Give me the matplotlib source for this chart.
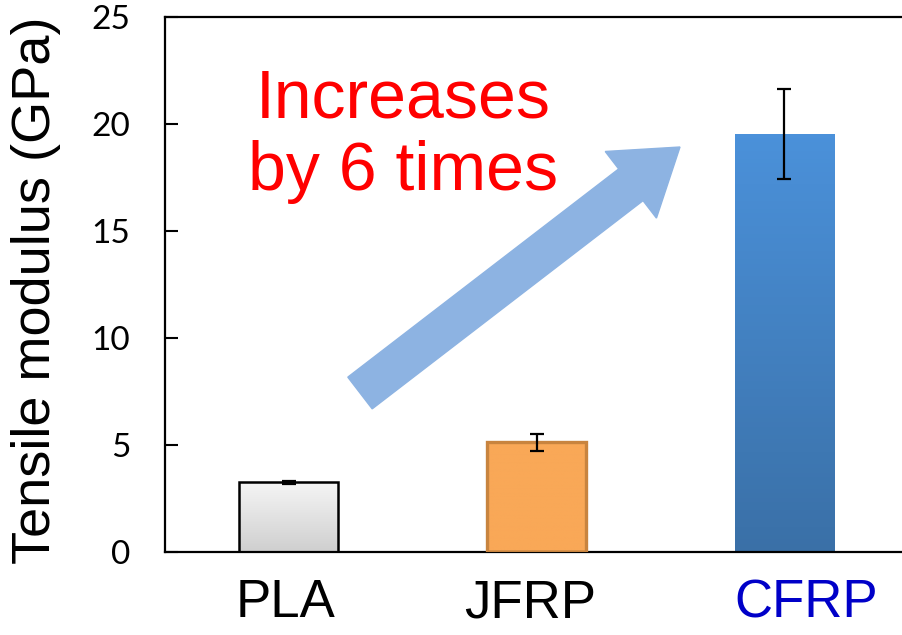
import numpy as np
import matplotlib
matplotlib.use("Agg")
import matplotlib.pyplot as plt
from matplotlib.patches import FancyArrow
from matplotlib.transforms import Affine2D, ScaledTranslation

# 数据
materials = ["PLA", "JFRP", "CFRP"]
modulus = [3.27, 5.13, 19.52]
modulus_err = [0.07, 0.40, 2.10]
label_colors = ["black", "black", "#0000C8"]
label_shift_px = [-3, -6, 22]  # 标签的水平偏移 (像素)

# 每个柱子的渐变色 (上, 下) 和边框
grad_top = ["#F5F5F5", "#F9A857", "#4B91DA"]
grad_bottom = ["#CFCFCF", "#F9A857", "#3A70A7"]
edge_colors = ["black", "#C8843F", "none"]

yticks = [0, 5, 10, 15, 20, 25]

fig = plt.figure(figsize=(9.02, 6.35), dpi=100)
ax = fig.add_axes([165 / 902, 83 / 635, (908 - 165) / 902, (552 - 17) / 635])

x = np.arange(len(materials))
width = 0.4
ax.set_xlim(-0.5, 2.5)
ax.set_ylim(0, 25)

bars = ax.bar(x, modulus, width=width, color="none", zorder=2)
for i, b in enumerate(bars):
    # 渐变填充
    grad = np.linspace(0, 1, 100).reshape(-1, 1)
    c1 = np.array(matplotlib.colors.to_rgb(grad_top[i]))
    c2 = np.array(matplotlib.colors.to_rgb(grad_bottom[i]))
    img = c1[None, None, :] * (1 - grad[:, :, None]) + c2[None, None, :] * grad[:, :, None]
    im = ax.imshow(img, extent=[b.get_x(), b.get_x() + width, 0, modulus[i]],
                   origin="upper", aspect="auto", zorder=2)
    im.set_clip_path(b)
    if edge_colors[i] != "none":
        ax.bar(x[i], modulus[i], width=width, color="none",
               edgecolor=edge_colors[i], linewidth=1.8 if i == 0 else 2.4, zorder=3)

ax.errorbar(x, modulus, yerr=modulus_err, fmt="none", ecolor="black",
            elinewidth=1.6, capsize=4.8, capthick=1.6, zorder=4)

ax.set_xlim(-0.5, 2.5)
ax.set_ylim(0, 25)

# 坐标轴样式
for s in ["top", "left", "bottom"]:
    ax.spines[s].set_linewidth(1.6)
ax.spines["right"].set_visible(False)
ax.set_yticks(yticks)
ax.set_yticklabels([str(v) for v in yticks], fontsize=24, family="Lato")
ax.tick_params(axis="y", direction="in", length=9, width=1.5, pad=25)
ax.set_xticks(x)
ax.set_xticklabels(materials, fontsize=38, family="Liberation Sans")
ax.tick_params(axis="x", length=0, pad=19)
for lbl, c, dx in zip(ax.get_xticklabels(), label_colors, label_shift_px):
    lbl.set_color(c)
    lbl.set_transform(lbl.get_transform() + ScaledTranslation(dx / 100, 0, fig.dpi_scale_trans))

fig.text(36 / 902, 1 - 290 / 635, "Tensile modulus (GPa)", rotation=90,
         ha="center", va="center", fontsize=39, family="Liberation Sans")

# 箭头 (像素坐标)
pix = Affine2D().scale(1 / 100) + fig.dpi_scale_trans
arrow = FancyArrow(360, 242, 320, 246, width=40, head_width=84, head_length=62,
                   length_includes_head=True, color="#8DB3E2", transform=pix,
                   zorder=5)
fig.patches.append(arrow)

fig.text(403 / 902, 1 - 136 / 635, "Increases\nby 6 times", color="#FF0000",
         ha="center", va="center", fontsize=49, family="Liberation Sans",
         linespacing=1.17)

fig.savefig("out.png", dpi=100)
